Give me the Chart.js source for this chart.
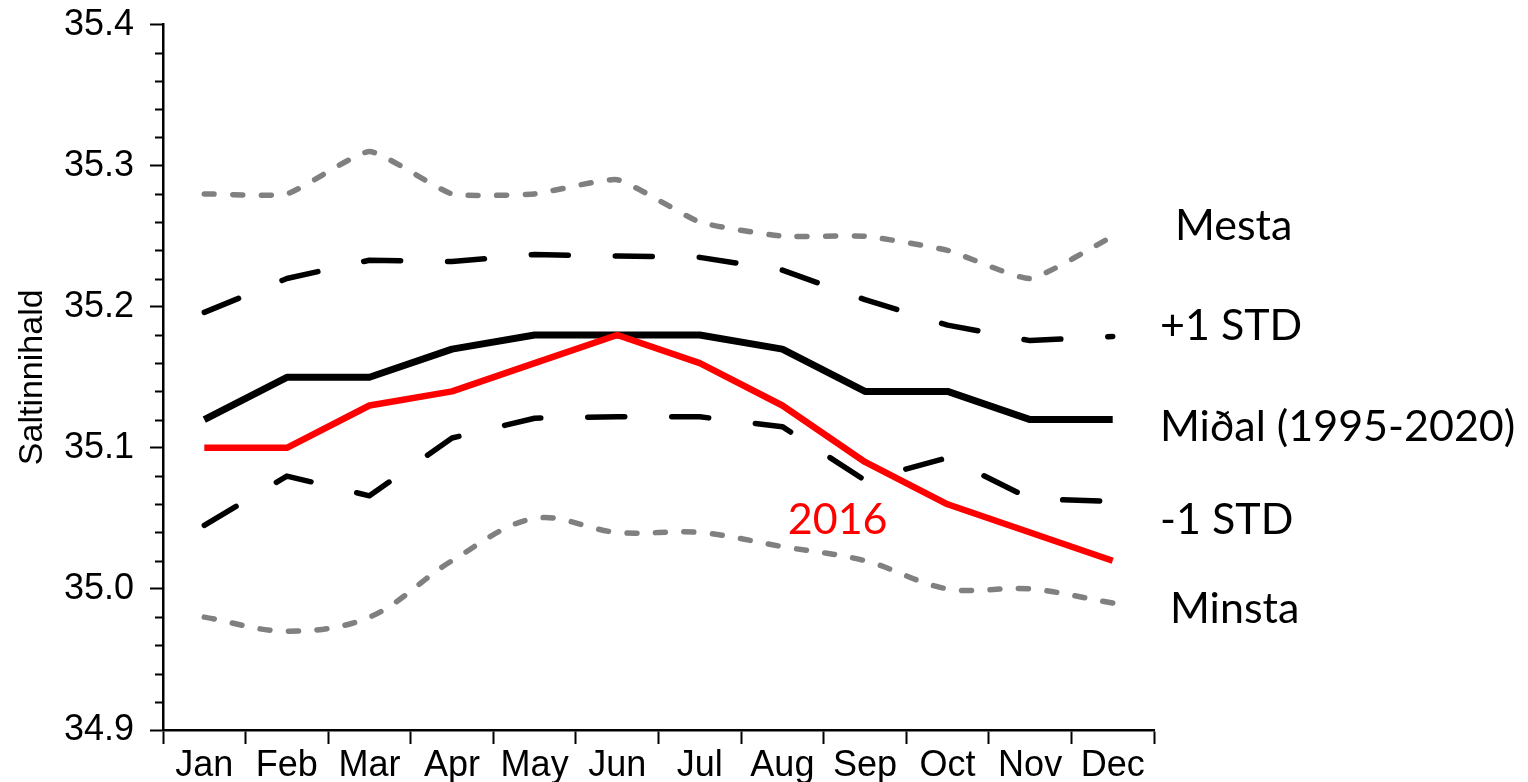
<!DOCTYPE html>
<html>
<head>
<meta charset="utf-8">
<script src="https://cdn.jsdelivr.net/npm/chart.js@4/dist/chart.umd.min.js"></script>
<style>
  html, body { margin: 0; padding: 0; background: #fff; overflow: hidden; }
  #wrap { width: 1528px; height: 795px; position: relative; top: -13px; }
</style>
</head>
<body>
<div id="wrap"><canvas id="salinityChart"></canvas></div>
<script>
const months = ["Jan", "Feb", "Mar", "Apr", "May", "Jun", "Jul", "Aug", "Sep", "Oct", "Nov", "Dec"];

const mesta = [35.28, 35.28, 35.31, 35.28, 35.28, 35.29, 35.26, 35.25, 35.25, 35.24, 35.22, 35.25];
const plusStd = [35.196, 35.22, 35.233, 35.232, 35.237, 35.236, 35.235, 35.226, 35.205, 35.187, 35.176, 35.179];
const midal = [35.12, 35.15, 35.15, 35.17, 35.18, 35.18, 35.18, 35.17, 35.14, 35.14, 35.12, 35.12];
const minusStd = [35.045, 35.08, 35.066, 35.107, 35.121, 35.122, 35.122, 35.115, 35.077, 35.093, 35.064, 35.062];
const minsta = [34.98, 34.97, 34.98, 35.02, 35.05, 35.04, 35.04, 35.03, 35.02, 35.0, 35.0, 34.99];
const year2016 = [35.1, 35.1, 35.13, 35.14, 35.16, 35.18, 35.16, 35.13, 35.09, 35.06, 35.04, 35.02];

const yTicks = [34.9, 35.0, 35.1, 35.2, 35.3, 35.4];

// right-hand series names and where (in salinity units) they sit
const sideLabels = ["Mesta", "+1 STD", "Miðal (1995-2020)", "-1 STD", "Minsta"];
const sideLabelValues = [35.257, 35.186, 35.115, 35.049, 34.986];
const sideLabelOffsets = [21, 6, 6, 6, 16];

const tickFont = { family: "'Liberation Sans', Arial, sans-serif", size: 36 };
const noteFont = "43px Lato, 'Open Sans', sans-serif";

const minorTicks = {
  id: "minorTicks",
  afterDraw(chart) {
    const { ctx, scales } = chart;
    const y = scales.y;
    const left = chart.chartArea.left;
    ctx.save();
    ctx.strokeStyle = "#000";
    ctx.lineWidth = 2;
    for (let i = 1; i < 25; i++) {
      if (i % 5 === 0) continue;
      const py = Math.round(y.getPixelForValue(34.9 + i * 0.02)) + 0.5;
      ctx.beginPath();
      ctx.moveTo(left - 8, py);
      ctx.lineTo(left, py);
      ctx.stroke();
    }
    ctx.restore();
  },
};

const notes = {
  id: "notes",
  afterDraw(chart) {
    const { ctx, scales, chartArea } = chart;
    ctx.save();
    ctx.font = noteFont;
    ctx.textBaseline = "middle";
    ctx.fillStyle = "#000";
    sideLabels.forEach((text, i) => {
      ctx.fillText(text, chartArea.right + sideLabelOffsets[i], scales.y.getPixelForValue(sideLabelValues[i]));
    });
    ctx.fillStyle = "#ff0000";
    ctx.textAlign = "center";
    const x = (scales.x.getPixelForValue(7) + scales.x.getPixelForValue(8)) / 2 + 14;
    ctx.fillText("2016", x, scales.y.getPixelForValue(35.049));
    ctx.restore();
  },
};

const ctx = document.getElementById("salinityChart").getContext("2d");
new Chart(ctx, {
  type: "line",
  data: {
    labels: months,
    datasets: [
      {
        label: "2016",
        data: year2016,
        borderColor: "#ff0000",
        borderWidth: 6.5,
        tension: 0,
      },
      {
        label: "Miðal (1995-2020)",
        data: midal,
        borderColor: "#000",
        borderWidth: 7,
        tension: 0,
      },
      {
        label: "+1 STD",
        data: plusStd,
        borderColor: "#000",
        borderWidth: 5.5,
        borderDash: [37, 47],
        borderCapStyle: "round",
        tension: 0,
      },
      {
        label: "-1 STD",
        data: minusStd,
        borderColor: "#000",
        borderWidth: 5.5,
        borderDash: [37, 47],
        borderCapStyle: "round",
        tension: 0,
      },
      {
        label: "Mesta",
        data: mesta,
        borderColor: "#808080",
        borderWidth: 5.5,
        borderDash: [10, 18.5],
        borderCapStyle: "round",
        tension: 0.15,
      },
      {
        label: "Minsta",
        data: minsta,
        borderColor: "#808080",
        borderWidth: 5.5,
        borderDash: [10, 18.5],
        borderCapStyle: "round",
        tension: 0.35,
      },
    ],
  },
  options: {
    responsive: true,
    maintainAspectRatio: false,
    animation: false,
    layout: { padding: { top: 10, right: 374, bottom: 0, left: 0 } },
    elements: { point: { radius: 0, hoverRadius: 0 }, line: { borderJoinStyle: "round" } },
    plugins: { legend: { display: false }, tooltip: { enabled: false } },
    scales: {
      x: {
        offset: true,
        grid: {
          offset: true,
          drawOnChartArea: false,
          drawTicks: true,
          tickLength: 14,
          tickColor: "#000",
          tickWidth: 2,
        },
        border: { display: true, color: "#000", width: 2.5 },
        ticks: { color: "#000", font: tickFont, padding: 0, maxRotation: 0, autoSkip: false },
        afterFit: (scale) => { scale.height = 52; },
      },
      y: {
        min: 34.9,
        max: 35.4,
        afterBuildTicks: (scale) => { scale.ticks = yTicks.map((v) => ({ value: v })); },
        grid: {
          drawOnChartArea: false,
          drawTicks: true,
          tickLength: 13,
          tickColor: "#000",
          tickWidth: 2,
        },
        border: { display: true, color: "#000", width: 2.5 },
        ticks: {
          color: "#000",
          font: tickFont,
          padding: 16,
          callback: (v) => Number(v).toFixed(1),
        },
        title: {
          display: true,
          text: "Saltinnihald",
          color: "#000",
          font: { family: "'Liberation Sans', Arial, sans-serif", size: 34 },
          padding: { top: 12, bottom: 0 },
        },
        afterFit: (scale) => { scale.width = 163; },
      },
    },
  },
  plugins: [minorTicks, notes],
});
</script>
</body>
</html>
